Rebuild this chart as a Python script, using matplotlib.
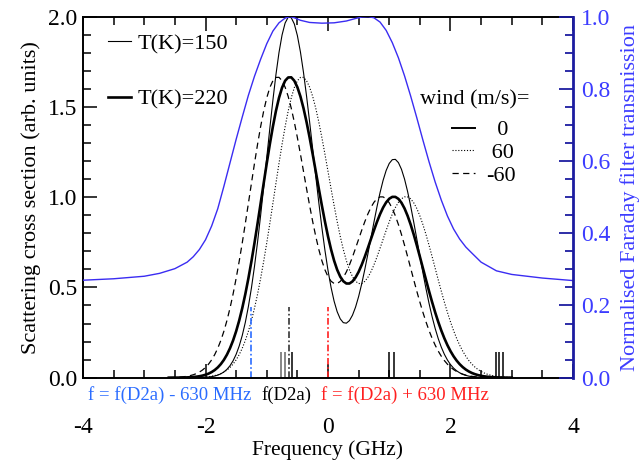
import numpy as np
import matplotlib
matplotlib.use("Agg")
import matplotlib.pyplot as plt
from matplotlib.ticker import MultipleLocator, FormatStrFormatter

plt.rcParams['font.family'] = ['Liberation Serif', 'DejaVu Serif']
plt.rcParams['axes.unicode_minus'] = False

# frequency grid (GHz) for the scattering curves
freq = np.arange(-2.6, 3.0001, 0.05)

# T = 220 K, wind 0
s_220 = [0.0001, 0.0002, 0.0003, 0.0005, 0.0007, 0.0011, 0.0017, 0.0025, 0.0038, 0.0055,
         0.0080, 0.0115, 0.0162, 0.0225, 0.0311, 0.0422, 0.0567, 0.0752, 0.0985, 0.1276,
         0.1631, 0.2059, 0.2569, 0.3165, 0.3851, 0.4629, 0.5498, 0.6445, 0.7466, 0.8540,
         0.9651, 1.0771, 1.1875, 1.2930, 1.3908, 1.4775, 1.5503, 1.6069, 1.6450, 1.6633,
         1.6640, 1.6451, 1.6094, 1.5582, 1.4930, 1.4164, 1.3305, 1.2386, 1.1433, 1.0474,
         0.9538, 0.8650, 0.7832, 0.7105, 0.6482, 0.5977, 0.5598, 0.5345, 0.5218, 0.5217,
         0.5333, 0.5552, 0.5861, 0.6247, 0.6690, 0.7171, 0.7668, 0.8162, 0.8633, 0.9059,
         0.9425, 0.9714, 0.9914, 1.0017, 1.0016, 0.9907, 0.9690, 0.9375, 0.8967, 0.8482,
         0.7933, 0.7336, 0.6708, 0.6065, 0.5423, 0.4793, 0.4189, 0.3620, 0.3093, 0.2613,
         0.2183, 0.1803, 0.1472, 0.1189, 0.0949, 0.0749, 0.0585, 0.0451, 0.0344, 0.0260,
         0.0194, 0.0143, 0.0104, 0.0075, 0.0054, 0.0037, 0.0026, 0.0018, 0.0012, 0.0008,
         0.0005, 0.0003, 0.0002]

# T = 150 K, wind 0
s_150 = [0.0000, 0.0000, 0.0000, 0.0001, 0.0001, 0.0001, 0.0001, 0.0002, 0.0003, 0.0005,
         0.0008, 0.0014, 0.0022, 0.0036, 0.0058, 0.0091, 0.0141, 0.0213, 0.0317, 0.0462,
         0.0663, 0.0934, 0.1291, 0.1753, 0.2337, 0.3061, 0.3937, 0.4972, 0.6170, 0.7514,
         0.8989, 1.0560, 1.2182, 1.3804, 1.5361, 1.6786, 1.8014, 1.8984, 1.9648, 1.9971,
         1.9945, 1.9599, 1.8956, 1.8046, 1.6912, 1.5600, 1.4170, 1.2673, 1.1166, 0.9702,
         0.8322, 0.7062, 0.5949, 0.5003, 0.4235, 0.3654, 0.3259, 0.3049, 0.3019, 0.3160,
         0.3462, 0.3910, 0.4493, 0.5190, 0.5977, 0.6830, 0.7719, 0.8610, 0.9465, 1.0252,
         1.0935, 1.1482, 1.1869, 1.2078, 1.2096, 1.1915, 1.1544, 1.1002, 1.0312, 0.9506,
         0.8619, 0.7686, 0.6740, 0.5815, 0.4934, 0.4116, 0.3377, 0.2727, 0.2165, 0.1691,
         0.1298, 0.0981, 0.0728, 0.0532, 0.0382, 0.0270, 0.0188, 0.0128, 0.0086, 0.0057,
         0.0037, 0.0024, 0.0015, 0.0009, 0.0006, 0.0003, 0.0002, 0.0001, 0.0001, 0.0000,
         0.0000, 0.0000, 0.0000]

# T = 220 K, wind +60 m/s
s_p60 = [0.0000, 0.0000, 0.0000, 0.0001,
         0.0001, 0.0002, 0.0003, 0.0005, 0.0007, 0.0011, 0.0017, 0.0025, 0.0038, 0.0055,
         0.0080, 0.0115, 0.0162, 0.0225, 0.0311, 0.0422, 0.0567, 0.0752, 0.0985, 0.1276,
         0.1631, 0.2059, 0.2569, 0.3165, 0.3851, 0.4629, 0.5498, 0.6445, 0.7466, 0.8540,
         0.9651, 1.0771, 1.1875, 1.2930, 1.3908, 1.4775, 1.5503, 1.6069, 1.6450, 1.6633,
         1.6640, 1.6451, 1.6094, 1.5582, 1.4930, 1.4164, 1.3305, 1.2386, 1.1433, 1.0474,
         0.9538, 0.8650, 0.7832, 0.7105, 0.6482, 0.5977, 0.5598, 0.5345, 0.5218, 0.5217,
         0.5333, 0.5552, 0.5861, 0.6247, 0.6690, 0.7171, 0.7668, 0.8162, 0.8633, 0.9059,
         0.9425, 0.9714, 0.9914, 1.0017, 1.0016, 0.9907, 0.9690, 0.9375, 0.8967, 0.8482,
         0.7933, 0.7336, 0.6708, 0.6065, 0.5423, 0.4793, 0.4189, 0.3620, 0.3093, 0.2613,
         0.2183, 0.1803, 0.1472, 0.1189, 0.0949, 0.0749, 0.0585, 0.0451, 0.0344, 0.0260,
         0.0194, 0.0143, 0.0104, 0.0075, 0.0054, 0.0037, 0.0026, 0.0018, 0.0012]

# T = 220 K, wind -60 m/s
s_m60 = [0.0007, 0.0011, 0.0017, 0.0025, 0.0038, 0.0055,
         0.0080, 0.0115, 0.0162, 0.0225, 0.0311, 0.0422, 0.0567, 0.0752, 0.0985, 0.1276,
         0.1631, 0.2059, 0.2569, 0.3165, 0.3851, 0.4629, 0.5498, 0.6445, 0.7466, 0.8540,
         0.9651, 1.0771, 1.1875, 1.2930, 1.3908, 1.4775, 1.5503, 1.6069, 1.6450, 1.6633,
         1.6640, 1.6451, 1.6094, 1.5582, 1.4930, 1.4164, 1.3305, 1.2386, 1.1433, 1.0474,
         0.9538, 0.8650, 0.7832, 0.7105, 0.6482, 0.5977, 0.5598, 0.5345, 0.5218, 0.5217,
         0.5333, 0.5552, 0.5861, 0.6247, 0.6690, 0.7171, 0.7668, 0.8162, 0.8633, 0.9059,
         0.9425, 0.9714, 0.9914, 1.0017, 1.0016, 0.9907, 0.9690, 0.9375, 0.8967, 0.8482,
         0.7933, 0.7336, 0.6708, 0.6065, 0.5423, 0.4793, 0.4189, 0.3620, 0.3093, 0.2613,
         0.2183, 0.1803, 0.1472, 0.1189, 0.0949, 0.0749, 0.0585, 0.0451, 0.0344, 0.0260,
         0.0194, 0.0143, 0.0104, 0.0075, 0.0054, 0.0037, 0.0026, 0.0018, 0.0012, 0.0008,
         0.0005, 0.0003, 0.0002, 0.0001, 0.0001, 0.0001, 0.0000]

# Faraday filter transmission (right axis)
filt_freq = [-4.0, -3.5, -3.0, -2.75, -2.5, -2.3, -2.2, -2.1, -2.0, -1.9, -1.8, -1.7,
             -1.6, -1.5, -1.4, -1.3, -1.2, -1.1, -1.0, -0.9, -0.8, -0.7, -0.62, -0.55,
             -0.45, -0.3, -0.1, 0.1, 0.3, 0.45, 0.55, 0.66, 0.75, 0.85, 0.95, 1.05,
             1.15, 1.25, 1.35, 1.45, 1.55, 1.65, 1.75, 1.85, 1.95, 2.05, 2.15, 2.25,
             2.35, 2.5, 2.75, 3.0, 3.5, 4.0]
filt_trans = [0.270, 0.274, 0.281, 0.289, 0.302, 0.320, 0.335, 0.355, 0.382, 0.420, 0.468, 0.530,
              0.595, 0.660, 0.722, 0.782, 0.835, 0.882, 0.925, 0.960, 0.983, 0.996, 1.000, 0.997,
              0.990, 0.984, 0.982, 0.983, 0.988, 0.995, 0.999, 1.000, 0.997, 0.985, 0.962, 0.928,
              0.886, 0.836, 0.780, 0.720, 0.658, 0.598, 0.542, 0.492, 0.448, 0.412, 0.384, 0.362,
              0.345, 0.320, 0.296, 0.286, 0.276, 0.269]

# hyperfine line positions and the three reference frequencies
hf_freq = [-0.772, -0.697, -0.583, 1.00, 1.078, 2.75, 2.80, 2.86]
hf_height = 0.145
hf_colors = ['#666666', '#666666', 'black', 'black', 'black', 'black', 'black', 'black']
ref_freq = [-1.265, -0.635, -0.005]
ref_height = 0.39
ref_colors = ['#2a6cff', '#333333', '#ff2020']

fig = plt.figure(figsize=(6.44, 4.62), dpi=100)
ax = fig.add_axes([0.1289, 0.1825, 0.7608, 0.7814])

l150, = ax.plot(freq, s_150, color='black', lw=0.8)
l220, = ax.plot(freq, s_220, color='black', lw=1.9)
lp60, = ax.plot(freq, s_p60, color='black', lw=0.8, ls=(0, (1, 1.6)))
lm60, = ax.plot(freq, s_m60, color='black', lw=0.9, ls=(0, (5, 3.5)))

ax.vlines(hf_freq, 0, hf_height, colors=hf_colors, lw=1.1)
ax.vlines(ref_freq, 0, ref_height, colors=ref_colors, lw=1.2,
          linestyles=[(0, (4, 1.5, 1, 1.5))])

ax.set_xlim(-4, 4)
ax.set_ylim(0, 2.0)
ax.xaxis.set_major_locator(MultipleLocator(2))
ax.xaxis.set_minor_locator(MultipleLocator(0.5))
ax.yaxis.set_major_locator(MultipleLocator(0.5))
ax.yaxis.set_minor_locator(MultipleLocator(0.1))
ax.yaxis.set_major_formatter(FormatStrFormatter('%.1f'))
ax.tick_params(which='both', direction='in', top=True, right=False, width=1.1)
ax.tick_params(which='major', length=10)
ax.tick_params(which='minor', length=6)
ax.tick_params(axis='x', labelsize=17, pad=28)
ax.tick_params(axis='y', labelsize=17, pad=4)
for side in ['left', 'top', 'bottom']:
    ax.spines[side].set_linewidth(1.4)
ax.spines['right'].set_visible(False)

ax.set_xlabel('Frequency (GHz)', fontsize=15.5, labelpad=2)
ax.set_ylabel('Scattering cross section (arb. units)', fontsize=16, labelpad=5)

leg1 = ax.legend([l150, l220], ['T(K)=150', 'T(K)=220'], loc='upper left',
                 bbox_to_anchor=(0.051, 0.953), frameon=False, fontsize=16,
                 handlelength=1.05, handletextpad=0.3, labelspacing=1.57,
                 borderpad=0, borderaxespad=0)

ax.text(0.688, 0.769, 'wind (m/s)=', transform=ax.transAxes, fontsize=16, va='center')

ax.text(0.010, -0.048, 'f = f(D2a) - 630 MHz', transform=ax.transAxes, fontsize=13.5,
        color='#2a6cff', va='center')
ax.text(0.365, -0.048, 'f(D2a)', transform=ax.transAxes, fontsize=13.5,
        color='black', va='center')
ax.text(0.486, -0.048, 'f = f(D2a) + 630 MHz', transform=ax.transAxes, fontsize=13.5,
        color='#ff2020', va='center')

ax2 = ax.twinx()
ax2.plot(filt_freq, filt_trans, color='#3a2cf2', lw=1.0)
ax2.set_ylim(0, 1.0)
ax2.yaxis.set_major_locator(MultipleLocator(0.2))
ax2.yaxis.set_minor_locator(MultipleLocator(0.05))
ax2.yaxis.set_major_formatter(FormatStrFormatter('%.1f'))
ax2.tick_params(which='both', direction='in', color='#1c1ca0', labelcolor='#3c3cff',
                labelsize=17, width=1.3, pad=6)
ax2.tick_params(which='major', length=10)
ax2.tick_params(which='minor', length=6)
for side in ['left', 'top', 'bottom']:
    ax2.spines[side].set_visible(False)
ax2.spines['right'].set_color('#1c1ca0')
ax2.spines['right'].set_linewidth(2.0)
ax2.set_ylabel('Normalised Faraday filter transmission', fontsize=16, color='#3c3cff',
               labelpad=7)

leg2 = ax2.legend([l220, lp60, lm60], ['  0', ' 60', '-60'], loc='upper left',
                  bbox_to_anchor=(0.753, 0.714), frameon=False, fontsize=16,
                  handlelength=1.05, handletextpad=0.5, labelspacing=0.1,
                  borderpad=0, borderaxespad=0)
leg2.get_lines()[0].set_linewidth(1.4)

fig.savefig('out.png', dpi=100)
